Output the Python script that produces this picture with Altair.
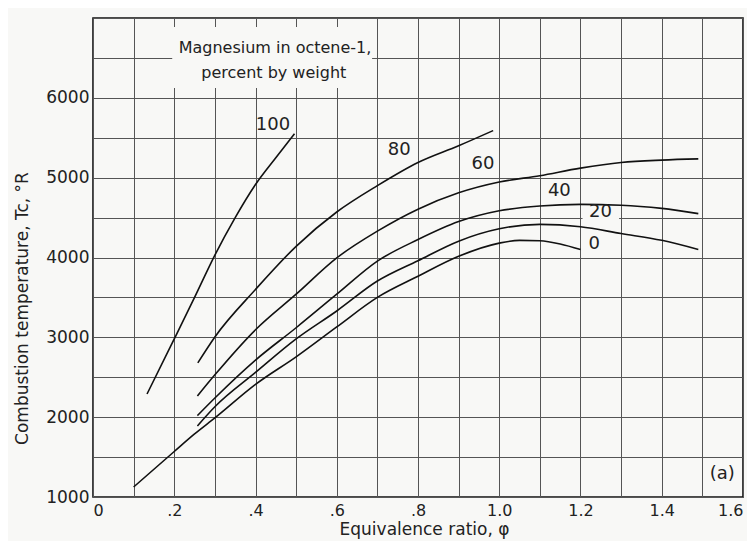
import altair as alt
import pandas as pd

# ---- data ----
x_100 = [0.133, 0.2, 0.25, 0.3, 0.35, 0.4, 0.45, 0.496]
y_100 = [2290, 2980, 3500, 4030, 4500, 4915, 5250, 5550]

x_80 = [0.258, 0.3, 0.4, 0.5, 0.6, 0.7, 0.8, 0.9, 0.985]
y_80 = [2680, 3005, 3600, 4140, 4570, 4900, 5190, 5400, 5590]

x_60 = [0.257, 0.3, 0.4, 0.5, 0.6, 0.7, 0.8, 0.9, 1.0, 1.1, 1.2, 1.3, 1.4, 1.49]
y_60 = [2265, 2530, 3095, 3540, 3995, 4330, 4605, 4810, 4945, 5025, 5120, 5190, 5220, 5235]

x_40 = [0.257, 0.3, 0.4, 0.5, 0.6, 0.7, 0.8, 0.9, 1.0, 1.1, 1.2, 1.3, 1.4, 1.49]
y_40 = [2020, 2240, 2715, 3120, 3540, 3955, 4225, 4450, 4585, 4645, 4665, 4655, 4615, 4550]

x_20 = [0.257, 0.3, 0.4, 0.5, 0.6, 0.7, 0.8, 0.9, 1.0, 1.1, 1.2, 1.3, 1.4, 1.49]
y_20 = [1890, 2130, 2560, 2980, 3330, 3705, 3960, 4205, 4360, 4415, 4385, 4300, 4215, 4100]

x_0 = [0.1, 0.2, 0.25, 0.3, 0.4, 0.5, 0.6, 0.7, 0.8, 0.9, 1.0, 1.05, 1.1, 1.15, 1.2]
y_0 = [1125, 1570, 1790, 1990, 2410, 2755, 3130, 3500, 3765, 4015, 4180, 4215, 4210, 4170, 4100]

label_text = ["100", "80", "60", "40", "20", "0", "(a)"]
label_x = [0.443, 0.754, 0.96, 1.148, 1.249, 1.234, 1.549]
label_y = [5659, 5346, 5170, 4832, 4569, 4168, 1286]

note_lines = ["Magnesium in octene-1,", "percent by weight"]
note_x = [0.448, 0.445]
note_y = [6624, 6311]

# boxes that hide the grid behind text
box_x = [0.195, 1.205]
box_x2 = [0.687, 1.295]
box_y = [6123, 4470]
box_y2 = [6887, 4660]

x_ticks = [round(i * 0.1, 1) for i in range(17)]
y_ticks = list(range(1000, 7001, 500))

BG = "#f8f8f6"
FONT = "DejaVu Sans"

series = [("100", x_100, y_100), ("80", x_80, y_80), ("60", x_60, y_60),
          ("40", x_40, y_40), ("20", x_20, y_20), ("0", x_0, y_0)]
rows = []
for name, xs, ys in series:
    for i, (a, b) in enumerate(zip(xs, ys)):
        rows.append({"series": name, "phi": a, "T": b, "order": i})
curves = pd.DataFrame(rows)

labels = pd.DataFrame({"text": label_text, "phi": label_x, "T": label_y})
notes = pd.DataFrame({"text": note_lines, "phi": note_x, "T": note_y})
boxes = pd.DataFrame({"x": box_x, "x2": box_x2, "y": box_y, "y2": box_y2})

x_scale = alt.Scale(domain=[0, 1.6], nice=False, zero=False)
y_scale = alt.Scale(domain=[1000, 7000], nice=False, zero=False)

x_axis = alt.Axis(
    values=x_ticks,
    labelExpr="round(datum.value*10) % 2 == 0 ? (datum.value == 0 ? '0' : (datum.value < 1 ? replace(format(datum.value, '.1f'), '0.', '.') : format(datum.value, '.1f'))) : ''",
    title="Equivalence ratio, φ",
    titleX=331, titleY=37, titleBaseline="alphabetic",
    titleAlign="center",
    labelPadding=5, labelFontSize=16,
)
y_axis = alt.Axis(
    values=y_ticks,
    labelExpr="datum.value % 1000 == 0 && datum.value < 7000 ? format(datum.value, 'd') : ''",
    title="Combustion temperature, Tc, °R",
    titleX=-71, titleY=290, titleAngle=-90, titleBaseline="middle",
    titleAlign="center",
    labelPadding=4, labelFontSize=17,
)

base_x = alt.X("phi:Q", scale=x_scale, axis=x_axis)
base_y = alt.Y("T:Q", scale=y_scale, axis=y_axis)

rects = alt.Chart(boxes).mark_rect(fill=BG).encode(
    x=alt.X("x:Q", scale=x_scale, axis=x_axis),
    x2="x2:Q",
    y=alt.Y("y:Q", scale=y_scale, axis=y_axis),
    y2="y2:Q",
)

lines = alt.Chart(curves).mark_line(
    color="#111111", strokeWidth=1.6, interpolate="monotone"
).encode(x=base_x, y=base_y, detail="series:N", order="order:Q")

label_marks = alt.Chart(labels).mark_text(
    font=FONT, fontSize=18, color="#222222", align="center", baseline="middle"
).encode(x=base_x, y=base_y, text="text:N")

note_marks = alt.Chart(notes).mark_text(
    font=FONT, fontSize=16, color="#222222", align="center", baseline="middle"
).encode(x=base_x, y=base_y, text="text:N")

chart = alt.layer(rects, lines, label_marks, note_marks).properties(
    width=650,
    height=479,
    autosize=alt.AutoSizeParams(type="none"),
    padding={"left": 85, "top": 10, "right": 4, "bottom": 44},
    background=BG,
).configure_view(
    stroke="#111111", strokeWidth=1.6, fill=BG
).configure_axis(
    grid=True, gridColor="#555555", gridWidth=1, gridOpacity=1,
    domain=False, ticks=False,
    labelFont=FONT, labelColor="#222222",
    titleFont=FONT, titleFontSize=17, titleColor="#222222", titleFontWeight="normal",
)

chart.save("out.html", embed_options={"renderer": "svg", "actions": False})
